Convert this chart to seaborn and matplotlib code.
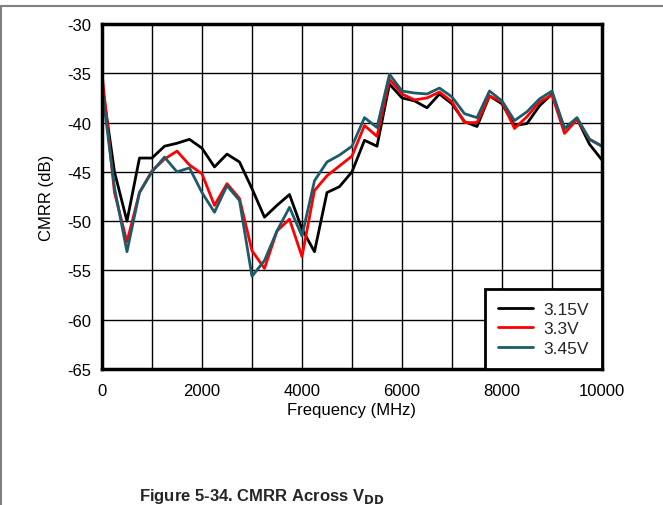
import matplotlib

matplotlib.use("Agg")
import matplotlib.pyplot as plt
import numpy as np
import pandas as pd
import seaborn as sns

# frequency sweep, 250 MHz steps
freq_mhz = list(range(0, 10001, 250))

cmrr_315 = [-36.0, -45.0, -50.0, -43.6, -43.6, -42.4, -42.1, -41.7, -42.6, -44.5,
            -43.2, -44.0, -46.7, -49.6, -48.4, -47.3, -50.8, -53.1, -47.1, -46.5,
            -45.0, -41.8, -42.4, -36.1, -37.5, -37.8, -38.5, -37.1, -38.1, -39.9,
            -40.4, -37.3, -38.1, -40.3, -40.1, -38.3, -37.1, -40.6, -39.6, -42.2,
            -43.8]
cmrr_33 = [-35.0, -47.1, -52.1, -47.1, -44.9, -43.7, -42.9, -44.3, -45.2, -48.4,
           -46.2, -47.7, -53.0, -54.8, -51.0, -49.8, -53.6, -46.9, -45.4, -44.4,
           -43.4, -40.3, -41.4, -35.6, -37.1, -37.7, -37.5, -36.9, -37.9, -40.0,
           -40.0, -37.3, -37.9, -40.6, -39.4, -37.9, -37.2, -41.1, -39.7, -41.7,
           -42.4]
cmrr_345 = [-36.5, -46.6, -53.1, -47.1, -45.0, -43.5, -45.0, -44.6, -47.1, -49.1,
            -46.4, -47.9, -55.6, -54.0, -51.0, -48.6, -51.5, -45.9, -44.0, -43.3,
            -42.4, -39.5, -40.5, -35.1, -36.8, -37.0, -37.1, -36.5, -37.4, -39.1,
            -39.5, -36.8, -37.8, -39.8, -38.9, -37.6, -36.8, -40.6, -39.5, -41.7,
            -42.4]

series_names = ["3.15V", "3.3V", "3.45V"]
series_colors = ["#000000", "#ff0000", "#1d5b6a"]

df = pd.DataFrame({
    "Frequency": freq_mhz * 3,
    "CMRR": cmrr_315 + cmrr_33 + cmrr_345,
    "Supply": np.repeat(series_names, len(freq_mhz)),
})

sns.set_theme(style="white")
plt.rcParams["font.family"] = ["Liberation Sans", "DejaVu Sans"]
plt.rcParams["axes.unicode_minus"] = False

fig = plt.figure(figsize=(6.63, 5.06), dpi=100)
ax = fig.add_axes([0.1538, 0.2688, 0.7542, 0.6818])

sns.lineplot(data=df, x="Frequency", y="CMRR", hue="Supply",
             palette=dict(zip(series_names, series_colors)),
             linewidth=2, ax=ax, sort=False)

ax.set_xlim(0, 10000)
ax.set_ylim(-65, -30)
ax.set_xticks(range(0, 10001, 2000))
ax.set_yticks(range(-65, -29, 5))
ax.set_xticks(range(0, 10001, 1000), minor=True)
ax.grid(True, which="both", color="black", linewidth=1.0)
ax.tick_params(axis="both", which="both", length=0, labelsize=12, colors="black")
ax.tick_params(axis="y", pad=8)
ax.tick_params(axis="x", pad=10)
for s in ax.spines.values():
    s.set_color("black")
    s.set_linewidth(2.5)

ax.set_xlabel("Frequency (MHz)", fontsize=12, color="black", labelpad=3)
ax.set_ylabel("CMRR (dB)", fontsize=12, color="black", labelpad=9)

leg = ax.legend(loc="lower right", fontsize=12.5, frameon=True, fancybox=False,
                handlelength=2.0, handletextpad=0.6, borderpad=0.75,
                labelspacing=0.25, borderaxespad=0)
leg.get_frame().set_edgecolor("black")
leg.get_frame().set_linewidth(2)
leg.get_frame().set_alpha(1)
for line in leg.get_lines():
    line.set_linewidth(2)

# page decoration: top rule and left rule
fig.add_artist(plt.Line2D([0, 1], [1 - 7 / 506, 1 - 7 / 506], color="#808080", linewidth=1.5))
fig.add_artist(plt.Line2D([0.001, 0.001], [0, 1 - 7 / 506], color="#808080", linewidth=1.5))

fig.text(0.395, 1 - 487 / 506, r"Figure 5-34. CMRR Across V$_{\mathbf{DD}}$",
         fontsize=12, fontweight="bold", ha="center", va="top")

fig.savefig("out.png", dpi=100)
